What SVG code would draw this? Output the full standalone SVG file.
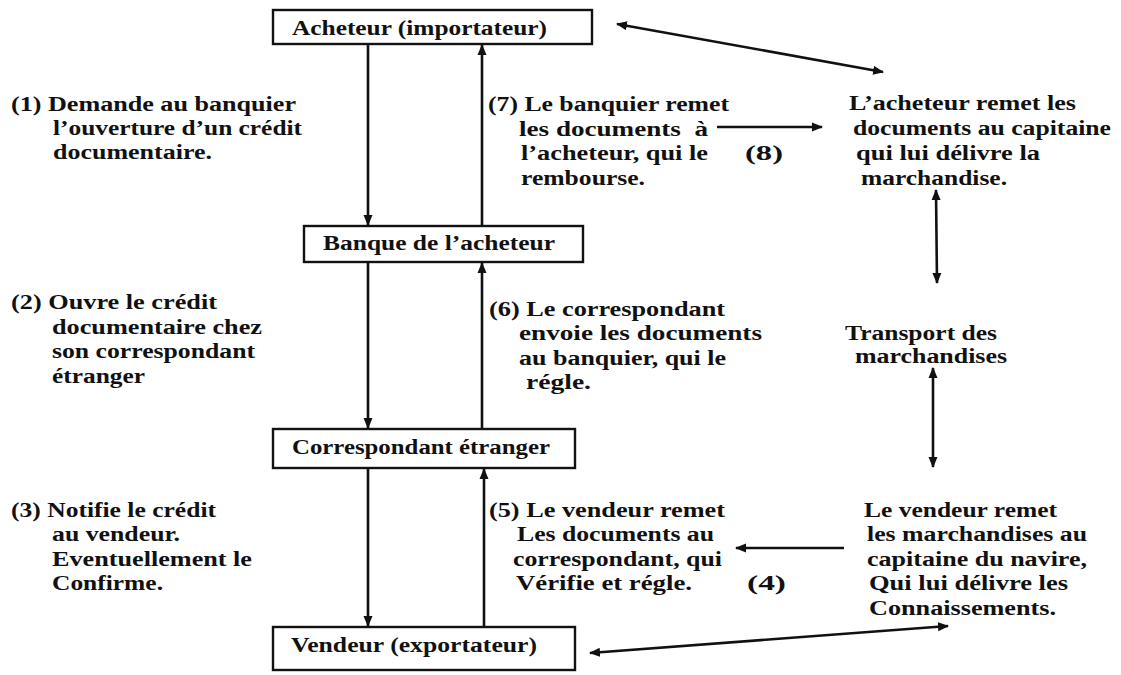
<svg xmlns="http://www.w3.org/2000/svg" width="1121" height="675" viewBox="0 0 1121 675">
<style>
.box{fill:#fff;stroke:#111;stroke-width:2.4}
.t{font-family:"Liberation Serif","Times New Roman",serif;font-weight:bold;font-size:20px;fill:#111}
.c{fill:none;stroke:#111;stroke-width:2.6}
</style>
<defs>
<marker id="ah" markerUnits="userSpaceOnUse" markerWidth="11" markerHeight="10" refX="10" refY="5" orient="auto-start-reverse" viewBox="0 0 11 10">
<path d="M0,0.5 L11,5 L0,9.5 z" fill="#111"/>
</marker>
</defs>
<rect width="1121" height="675" fill="#fff"/>

<g id="connectors">
<path class="c" d="M368,44 V225" marker-end="url(#ah)"/>
<path class="c" d="M482,226 V45" marker-end="url(#ah)"/>
<path class="c" d="M368,262 V428" marker-end="url(#ah)"/>
<path class="c" d="M482,429 V263" marker-end="url(#ah)"/>
<path class="c" d="M368,468 V626" marker-end="url(#ah)"/>
<path class="c" d="M484,627 V469" marker-end="url(#ah)"/>
<path class="c" d="M717,127 H822" marker-end="url(#ah)"/>
<path class="c" d="M844,548 H736" marker-end="url(#ah)"/>
<path class="c" d="M617,24 L883,72" marker-start="url(#ah)" marker-end="url(#ah)"/>
<path class="c" d="M936,190 L937,283" marker-start="url(#ah)" marker-end="url(#ah)"/>
<path class="c" d="M933,368 V467" marker-start="url(#ah)" marker-end="url(#ah)"/>
<path class="c" d="M948,626 L590,653" marker-start="url(#ah)" marker-end="url(#ah)"/>
</g>

<g id="acheteur">
<rect class="box" x="273" y="10" width="319" height="34"/>
<text class="t" x="292" y="35" textLength="255" lengthAdjust="spacingAndGlyphs">Acheteur (importateur)</text>
</g>
<g id="banque">
<rect class="box" x="304" y="226" width="279" height="36"/>
<text class="t" x="323" y="250" textLength="232" lengthAdjust="spacingAndGlyphs">Banque de l’acheteur</text>
</g>
<g id="correspondant">
<rect class="box" x="273" y="429" width="302" height="39"/>
<text class="t" x="292" y="454" textLength="258" lengthAdjust="spacingAndGlyphs">Correspondant étranger</text>
</g>
<g id="vendeur">
<rect class="box" x="273" y="627" width="302" height="43"/>
<text class="t" x="291" y="652" textLength="246" lengthAdjust="spacingAndGlyphs">Vendeur (exportateur)</text>
</g>

<g id="label1">
<text class="t" x="11" y="111" textLength="285" lengthAdjust="spacingAndGlyphs">(1) Demande au banquier</text>
<text class="t" x="53" y="135" textLength="249" lengthAdjust="spacingAndGlyphs">l’ouverture d’un crédit</text>
<text class="t" x="53" y="159" textLength="159" lengthAdjust="spacingAndGlyphs">documentaire.</text>
</g>
<g id="label2">
<text class="t" x="11" y="309" textLength="206" lengthAdjust="spacingAndGlyphs">(2) Ouvre le crédit</text>
<text class="t" x="52" y="334" textLength="210" lengthAdjust="spacingAndGlyphs">documentaire chez</text>
<text class="t" x="52" y="358" textLength="203" lengthAdjust="spacingAndGlyphs">son correspondant</text>
<text class="t" x="52" y="383" textLength="93" lengthAdjust="spacingAndGlyphs">étranger</text>
</g>
<g id="label3">
<text class="t" x="11" y="517" textLength="205" lengthAdjust="spacingAndGlyphs">(3) Notifie le crédit</text>
<text class="t" x="52" y="541" textLength="128" lengthAdjust="spacingAndGlyphs">au vendeur.</text>
<text class="t" x="52" y="566" textLength="200" lengthAdjust="spacingAndGlyphs">Eventuellement le</text>
<text class="t" x="52" y="590" textLength="111" lengthAdjust="spacingAndGlyphs">Confirme.</text>
</g>

<g id="label7">
<text class="t" x="488" y="111" textLength="241" lengthAdjust="spacingAndGlyphs">(7) Le banquier remet</text>
<text class="t" x="519" y="136" textLength="189" lengthAdjust="spacingAndGlyphs" xml:space="preserve">les documents  à</text>
<text class="t" x="521" y="160" textLength="187" lengthAdjust="spacingAndGlyphs">l’acheteur, qui le</text>
<text class="t" x="521" y="185" textLength="124" lengthAdjust="spacingAndGlyphs">rembourse.</text>
</g>
<g id="label8">
<text class="t" x="745" y="160" textLength="38" lengthAdjust="spacingAndGlyphs">(8)</text>
</g>
<g id="label6">
<text class="t" x="489" y="316" textLength="236" lengthAdjust="spacingAndGlyphs">(6) Le correspondant</text>
<text class="t" x="519" y="340" textLength="243" lengthAdjust="spacingAndGlyphs">envoie les documents</text>
<text class="t" x="519" y="365" textLength="207" lengthAdjust="spacingAndGlyphs">au banquier, qui le</text>
<text class="t" x="526" y="389" textLength="65" lengthAdjust="spacingAndGlyphs">régle.</text>
</g>
<g id="label5">
<text class="t" x="489" y="517" textLength="236" lengthAdjust="spacingAndGlyphs">(5) Le vendeur remet</text>
<text class="t" x="517" y="541" textLength="197" lengthAdjust="spacingAndGlyphs">Les documents au</text>
<text class="t" x="513" y="566" textLength="209" lengthAdjust="spacingAndGlyphs">correspondant, qui</text>
<text class="t" x="516" y="590" textLength="176" lengthAdjust="spacingAndGlyphs">Vérifie et régle.</text>
</g>
<g id="label4">
<text class="t" x="747" y="590" textLength="39" lengthAdjust="spacingAndGlyphs">(4)</text>
</g>

<g id="livraison">
<text class="t" x="849" y="110" textLength="227" lengthAdjust="spacingAndGlyphs">L’acheteur remet les</text>
<text class="t" x="853" y="135" textLength="258" lengthAdjust="spacingAndGlyphs">documents au capitaine</text>
<text class="t" x="856" y="160" textLength="184" lengthAdjust="spacingAndGlyphs">qui lui délivre la</text>
<text class="t" x="861" y="185" textLength="146" lengthAdjust="spacingAndGlyphs">marchandise.</text>
</g>
<g id="transport">
<text class="t" x="845" y="340" textLength="152" lengthAdjust="spacingAndGlyphs">Transport des</text>
<text class="t" x="855" y="363" textLength="152" lengthAdjust="spacingAndGlyphs">marchandises</text>
</g>
<g id="chargement">
<text class="t" x="864" y="517" textLength="193" lengthAdjust="spacingAndGlyphs">Le vendeur remet</text>
<text class="t" x="867" y="541" textLength="220" lengthAdjust="spacingAndGlyphs">les marchandises au</text>
<text class="t" x="867" y="566" textLength="220" lengthAdjust="spacingAndGlyphs">capitaine du navire,</text>
<text class="t" x="869" y="590" textLength="199" lengthAdjust="spacingAndGlyphs">Qui lui délivre les</text>
<text class="t" x="869" y="615" textLength="187" lengthAdjust="spacingAndGlyphs">Connaissements.</text>
</g>
</svg>
